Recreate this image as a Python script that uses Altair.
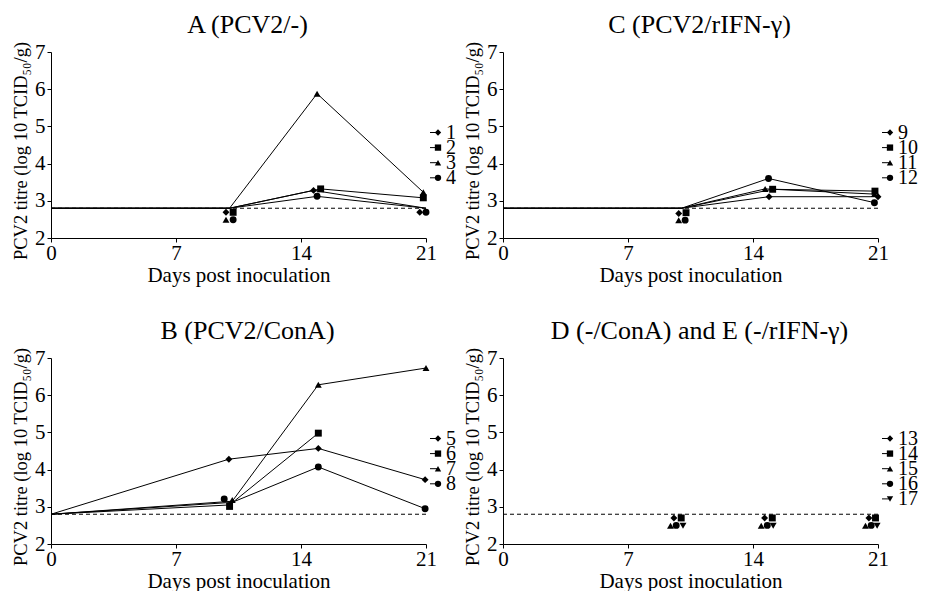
import altair as alt
import pandas as pd

FONT = "Liberation Serif"

# ---------------- data ----------------
LOD = 2.8  # detection limit (dashed line)
LOD_days = [0, 21]

# Panel A (PCV2/-), animals 1-4
A_ids = ["1", "2", "3", "4"]
A_shapes = ["diamond", "square", "triangle-up", "circle"]
A_line_day = [[0, 10, 14.7, 21], [0, 10, 15.1, 20.85], [0, 10, 14.9, 20.85], [0, 10, 14.9, 21]]
A_line_val = [[2.8, 2.8, 3.28, 2.8], [2.8, 2.8, 3.32, 3.08], [2.8, 2.8, 5.88, 3.23], [2.8, 2.8, 3.12, 2.8]]
A_pt_day = [[9.8, 14.7, 20.65], [10.2, 15.1, 20.85], [9.8, 14.9, 20.85], [10.2, 14.9, 21.0]]
A_pt_val = [[2.69, 3.28, 2.69], [2.69, 3.32, 3.08], [2.49, 5.88, 3.23], [2.49, 3.12, 2.69]]

# Panel B (PCV2/ConA), animals 5-8
B_ids = ["5", "6", "7", "8"]
B_shapes = ["diamond", "square", "triangle-up", "circle"]
B_line_day = [[0, 9.96, 14.97, 20.95], [0, 10.0, 14.97], [0, 10.15, 14.97, 21.0], [0, 10.15, 14.97, 20.95]]
B_line_val = [[2.8, 4.28, 4.57, 3.73], [2.8, 3.05, 4.98], [2.8, 3.15, 6.28, 6.73], [2.8, 3.12, 4.07, 2.95]]
B_pt_day = [[9.96, 14.97, 20.95], [10.0, 14.97], [10.15, 14.97, 21.0], [9.7, 14.97, 20.95]]
B_pt_val = [[4.28, 4.57, 3.73], [3.01, 4.98], [3.18, 6.28, 6.73], [3.21, 4.07, 2.95]]

# Panel C (PCV2/rIFN-gamma), animals 9-12
C_ids = ["9", "10", "11", "12"]
C_shapes = ["diamond", "square", "triangle-up", "circle"]
C_line_day = [[0, 10, 14.9, 21.0], [0, 10, 15.1, 20.83], [0, 10, 14.68, 20.8], [0, 10, 14.87, 20.8]]
C_line_val = [[2.8, 2.8, 3.11, 3.11], [2.8, 2.8, 3.31, 3.26], [2.8, 2.8, 3.32, 3.18], [2.8, 2.8, 3.6, 2.95]]
C_pt_day = [[9.84, 14.9, 21.0], [10.25, 15.1, 20.83], [9.84, 14.68, 20.8], [10.2, 14.87, 20.8]]
C_pt_val = [[2.66, 3.11, 3.11], [2.68, 3.31, 3.26], [2.48, 3.32, 3.18], [2.48, 3.6, 2.95]]

# Panel D (-/ConA) and E (-/rIFN-gamma), animals 13-17
D_ids = ["13", "14", "15", "16", "17"]
D_shapes = ["diamond", "square", "triangle-up", "circle", "triangle-down"]
D_line_day = [[], [], [], [], []]
D_line_val = [[], [], [], [], []]
D_pt_day = [[9.57, 14.65, 20.49], [9.98, 15.08, 20.86], [9.38, 14.46, 20.3], [9.7, 14.8, 20.62], [10.08, 15.13, 20.95]]
D_pt_val = [[2.7, 2.7, 2.7], [2.7, 2.7, 2.7], [2.49, 2.49, 2.49], [2.5, 2.5, 2.5], [2.49, 2.49, 2.49]]

W, H = 375, 186
# legend layout (pixels, relative to the plot area)
LEG_TOP, LEG_STEP = 80.5, 15.1
LEG_STUB_X0, LEG_SYM_X, LEG_TXT_X = W + 4, W + 12, W + 20

XS = alt.Scale(domain=[0, 21], nice=False, zero=False)
YS = alt.Scale(domain=[2, 7], nice=False, zero=False)
X_AX = alt.Axis(values=[0, 7, 14, 21], title="Days post inoculation", labelFlush=False,
                labelBaseline="middle", labelPadding=11, titleFontSize=21, titlePadding=1)
Y_AX = alt.Axis(values=[2, 3, 4, 5, 6, 7], title="PCV2 titre (log 10 TCID\u2085\u2080/g)",
                titleFontSize=18.5, titlePadding=4, titleY=H / 2 + 5.5, labelPadding=2)


def panel(title, ids, shapes, line_day, line_val, pt_day, pt_val):
    lrows, prows = [], []
    for a, s, ld, lv, pd_, pv in zip(ids, shapes, line_day, line_val, pt_day, pt_val):
        for i, (d, v) in enumerate(zip(ld, lv)):
            lrows.append({"animal": a, "day": d, "titre": v, "idx": i})
        for d, v in zip(pd_, pv):
            prows.append({"animal": a, "sym": s, "day": d, "titre": v})
    ldf = pd.DataFrame(lrows, columns=["animal", "day", "titre", "idx"])
    pdf = pd.DataFrame(prows)
    lod = pd.DataFrame({"day": LOD_days, "titre": [LOD] * len(LOD_days)})
    legdf = pd.DataFrame({"animal": ids, "sym": shapes})

    x = alt.X("day:Q", scale=XS, axis=X_AX)
    y = alt.Y("titre:Q", scale=YS, axis=Y_AX)

    dash = alt.Chart(lod).mark_line(color="black", strokeWidth=1, strokeDash=[4, 3]).encode(x=x, y=y)
    layers = [dash]
    if len(ldf):
        lines = alt.Chart(ldf).mark_line(color="black", strokeWidth=1).encode(
            x=x, y=y, detail="animal:N", order="idx:Q")
        layers.append(lines)
    pts = alt.Chart(pdf).mark_point(filled=True, color="black", size=48, opacity=1).encode(
        x=x, y=y, shape=alt.Shape("sym:N", scale=None, legend=None))
    layers.append(pts)

    # legend (line stub + marker + label), one row per animal
    ly = alt.Y("animal:N", axis=None,
               scale=alt.Scale(type="point", domain=ids, padding=0,
                               range=[LEG_TOP, LEG_TOP + LEG_STEP * (len(ids) - 1)]))
    lbase = alt.Chart(legdf)
    stub = lbase.mark_rule(color="black", strokeWidth=1).encode(
        x=alt.value(LEG_STUB_X0), x2=alt.value(LEG_SYM_X), y=ly)
    lsym = lbase.mark_point(filled=True, color="black", size=40, opacity=1).encode(
        x=alt.value(LEG_SYM_X), y=ly, shape=alt.Shape("sym:N", scale=None, legend=None))
    ltxt = lbase.mark_text(align="left", baseline="middle", font=FONT, fontSize=20,
                           color="black").encode(x=alt.value(LEG_TXT_X), y=ly, text="animal:N")
    legend = alt.layer(stub, lsym, ltxt)
    data_layer = alt.layer(*layers)
    return alt.layer(data_layer, legend).resolve_scale(y="independent").properties(
        width=W, height=H,
        title=alt.TitleParams(title, font=FONT, fontSize=26, fontWeight="normal",
                              color="black", dx=9, offset=3))


pA = panel("A (PCV2/-)", A_ids, A_shapes, A_line_day, A_line_val, A_pt_day, A_pt_val)
pB = panel("B (PCV2/ConA)", B_ids, B_shapes, B_line_day, B_line_val, B_pt_day, B_pt_val)
pC = panel("C (PCV2/rIFN-\u03b3)", C_ids, C_shapes, C_line_day, C_line_val, C_pt_day, C_pt_val)
pD = panel("D (-/ConA) and E (-/rIFN-\u03b3)", D_ids, D_shapes, D_line_day, D_line_val, D_pt_day, D_pt_val)

top = alt.hconcat(pA, pC, spacing=7)
bot = alt.hconcat(pB, pD, spacing=7)

chart = alt.vconcat(top, bot, spacing=33).properties(
    padding={"left": 3, "top": 4, "right": 0, "bottom": 0}
).configure_view(stroke=None).configure_axis(
    labelFont=FONT, titleFont=FONT, labelFontSize=21, labelColor="black", titleColor="black",
    titleFontWeight="normal", domainColor="black", tickColor="black", domainWidth=1, tickWidth=1,
    tickSize=4, grid=False
)

chart.save("out.html", embed_options={"renderer": "svg", "actions": False})
